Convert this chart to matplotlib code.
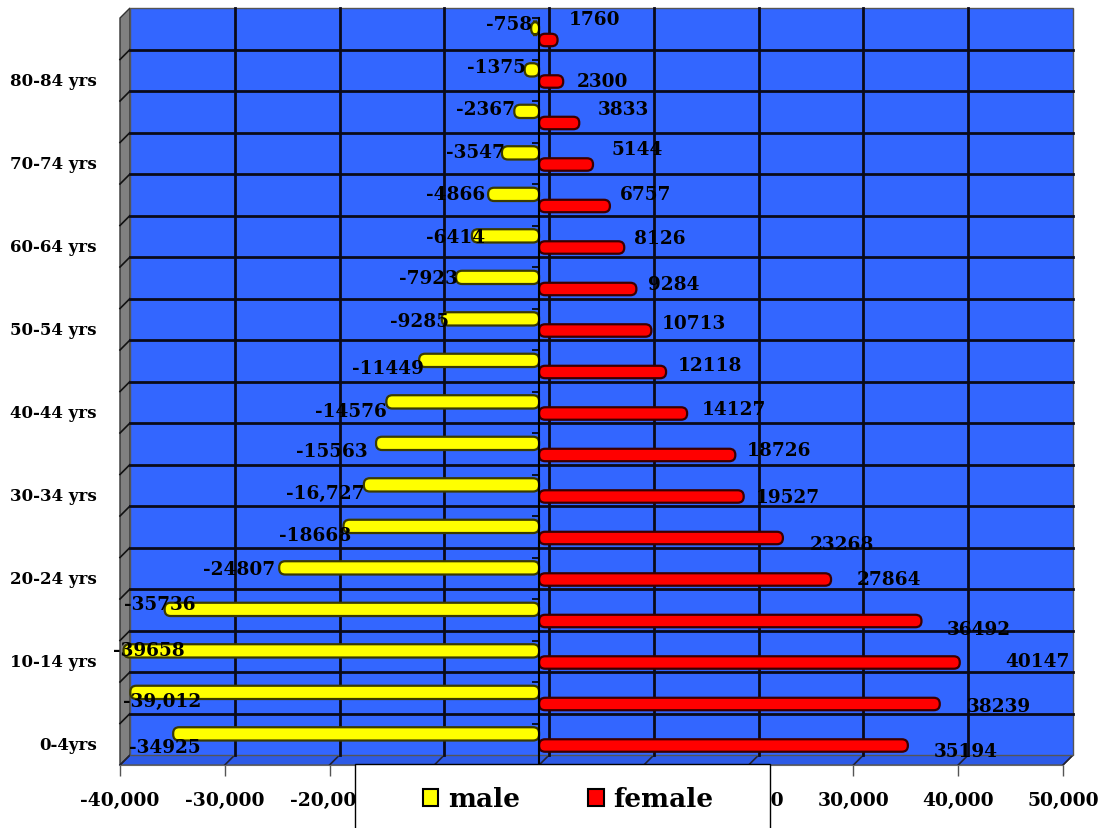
import matplotlib
matplotlib.use('Agg')
import matplotlib.pyplot as plt
from matplotlib.transforms import ScaledTranslation
from matplotlib.patches import Rectangle, Polygon, Patch, FancyBboxPatch
from matplotlib.ticker import FuncFormatter

# ---------------- data ----------------
age_groups = ['0-4yrs', '5-9 yrs', '10-14 yrs', '15-19 yrs', '20-24 yrs', '25-29 yrs',
              '30-34 yrs', '35-39 yrs', '40-44 yrs', '45-49 yrs', '50-54 yrs', '55-59 yrs',
              '60-64 yrs', '65-69 yrs', '70-74 yrs', '75-79 yrs', '80-84 yrs', '85+ yrs']
male = [-34925, -39012, -39658, -35736, -24807, -18668, -16727, -15563, -14576,
        -11449, -9285, -7923, -6414, -4866, -3547, -2367, -1375, -758]
female = [35194, 38239, 40147, 36492, 27864, 23268, 19527, 18726, 14127,
          12118, 10713, 9284, 8126, 6757, 5144, 3833, 2300, 1760]
male_text = ['-34925', '-39,012', '-39658', '-35736', '-24807', '-18668', '-16,727', '-15563',
             '-14576', '-11449', '-9285', '-7923', '-6414', '-4866', '-3547', '-2367', '-1375', '-758']
female_text = ['35194', '38239', '40147', '36492', '27864', '23268', '19527', '18726', '14127',
               '12118', '10713', '9284', '8126', '6757', '5144', '3833', '2300', '1760']
x_ticks = [-40000, -30000, -20000, -10000, 0, 10000, 20000, 30000, 40000, 50000]

# ---------------- style / layout ----------------
# label offsets in pixels (dx right, dy up) relative to bar end
male_dx = [-8, 32, 25, -5, -40, -28, -39, -44, -35, -31, -22, -28, -16, -33, -27, -29, -28, -22]
male_dy = [-3, 2, 11, 16, 9, 2, 2, 3, 1, 3, 8, 10, 9, 11, 11, 13, 13, 15]
female_dx = [58, 59, 78, 57, 58, 59, 44, 44, 47, 44, 43, 37, 36, 36, 44, 44, 39, 37]
female_dy = [-7, -3, 0, -9, -1, -7, -2, 4, 3, 6, 6, 4, 8, 11, 14, 13, -1, 20]

FONT = 'DejaVu Serif'
WALL = '#3366FF'
FLOOR = '#2d5ae6'
DEPTH = 10  # px

W, H = 1102, 829
fig = plt.figure(figsize=(W / 100, H / 100), dpi=100)
ax_l, ax_r, ax_t, ax_b = 120, 1063, 19, 766
ax = fig.add_axes([ax_l / W, (H - ax_b) / H, (ax_r - ax_l) / W, (ax_b - ax_t) / H])
ax.set_zorder(1)
ax.set_xlim(x_ticks[0], x_ticks[-1])
n = len(age_groups)
ax.set_ylim(-0.5, n - 0.5)
ax.patch.set_visible(False)

back = ax.transData + ScaledTranslation(DEPTH / 100, DEPTH / 100, fig.dpi_scale_trans)

# back wall
ax.add_patch(Rectangle((x_ticks[0], -0.5), x_ticks[-1] - x_ticks[0], n, transform=back,
                       facecolor=WALL, edgecolor='#555555', lw=1, zorder=0, clip_on=False))
for xv in x_ticks[1:-1]:
    ax.plot([xv, xv], [-0.5, n - 0.5], color='#0a0a1a', lw=2, transform=back, zorder=0.5, clip_on=False)
for k in range(1, n):
    ax.plot([x_ticks[0], x_ticks[-1]], [k - 0.5, k - 0.5], color='#0a0a1a', lw=2,
            transform=back, zorder=0.5, clip_on=False)

# floor and side wall (display coords)
fig.canvas.draw()
def front(x, y):
    return tuple(ax.transData.transform((x, y)))
def bk(x, y):
    return tuple(back.transform((x, y)))
inv = fig.transFigure.inverted()
def tofig(pts):
    return [tuple(inv.transform(p)) for p in pts]

floor_pts = [front(x_ticks[0], -0.5), front(x_ticks[-1], -0.5), bk(x_ticks[-1], -0.5), bk(x_ticks[0], -0.5)]
fig.add_artist(Polygon(tofig(floor_pts), closed=True, facecolor=FLOOR, edgecolor='#555555',
                       lw=1, transform=fig.transFigure, zorder=0.1))
for xv in x_ticks:
    fig.add_artist(plt.Line2D(*zip(*tofig([front(xv, -0.5), bk(xv, -0.5)])), color='#222233',
                              lw=1.2, transform=fig.transFigure, zorder=0.2))
side_pts = [front(x_ticks[0], -0.5), bk(x_ticks[0], -0.5), bk(x_ticks[0], n - 0.5), front(x_ticks[0], n - 0.5)]
fig.add_artist(Polygon(tofig(side_pts), closed=True, facecolor='#808080', edgecolor='#333333',
                       lw=1, transform=fig.transFigure, zorder=0.1))
for k in range(1, n):
    fig.add_artist(plt.Line2D(*zip(*tofig([front(x_ticks[0], k - 0.5), bk(x_ticks[0], k - 0.5)])),
                              color='#111111', lw=1.2, transform=fig.transFigure, zorder=0.2))

# bars (rounded, cylinder-like)
ypos = list(range(n))
bm = ax.barh([y + 0.25 for y in ypos], male, height=0.32, color='#FFFF00', edgecolor='#4a4a00',
             lw=1.5, zorder=3, clip_on=False)
bf = ax.barh([y - 0.03 for y in ypos], female, height=0.30, color='#FF0000', edgecolor='#4a0000',
             lw=1.5, zorder=3, clip_on=False)
xu_per_px = (x_ticks[-1] - x_ticks[0]) / (ax_r - ax_l)
yu_per_px = n / (ax_b - ax_t)
for cont, fc, ec in [(bm, '#FFFF00', '#3a3a00'), (bf, '#FF0000', '#3a0000')]:
    for r in cont.patches:
        x0, y0, w, h = r.get_x(), r.get_y(), r.get_width(), r.get_height()
        if w < 0:
            x0, w = x0 + w, -w
        r.set_visible(False)
        ax.add_patch(FancyBboxPatch((x0, y0), w, h,
                                    boxstyle=f'round,pad=0,rounding_size={6 * xu_per_px}',
                                    mutation_aspect=yu_per_px / xu_per_px,
                                    facecolor=fc, edgecolor=ec, lw=1.6, zorder=3, clip_on=False))

# data labels
for i in range(n):
    ax.annotate(male_text[i], (male[i], i), xytext=(male_dx[i], male_dy[i]), textcoords='offset pixels',
                ha='center', va='center', fontsize=13.3, fontweight='bold', family=FONT, zorder=6,
                annotation_clip=False)
    ax.annotate(female_text[i], (female[i], i), xytext=(female_dx[i], female_dy[i]), textcoords='offset pixels',
                ha='center', va='center', fontsize=13.3, fontweight='bold', family=FONT, zorder=6,
                annotation_clip=False)

# axes
for s in ['top', 'right']:
    ax.spines[s].set_visible(False)
ax.spines['left'].set_position(('data', 0))
ax.spines['left'].set_linewidth(1.5)
ax.spines['left'].set_zorder(4)
ax.spines['bottom'].set_color('#666666')
ax.set_yticks([k - 0.5 for k in range(n + 1)])
ax.set_yticklabels([])
ax.tick_params(axis='y', length=5, width=1.2, direction='out')
ax.set_xticks(x_ticks)
ax.xaxis.set_major_formatter(FuncFormatter(lambda v, p: f'{int(v):,}'))
ax.tick_params(axis='x', length=8, width=1, color='#555555', pad=11, labelsize=13.5)
for lab in ax.get_xticklabels():
    lab.set_fontweight('bold')
    lab.set_family(FONT)

# category labels
ytr = ax.get_yaxis_transform()
for i in range(0, n, 2):
    ax.text(-23 / (ax_r - ax_l), i, age_groups[i], transform=ytr, ha='right', va='center',
            fontsize=12, fontweight='bold', family=FONT)

# legend box
fig.add_artist(Rectangle((355 / W, -0.05), (770 - 355) / W, (H - 765) / H + 0.05,
                         transform=fig.transFigure, facecolor='white', edgecolor='black', lw=1, zorder=4))
handles = [Patch(facecolor='#FFFF00', edgecolor='black', lw=1.5, label='male'),
           Patch(facecolor='#FF0000', edgecolor='black', lw=1.5, label='female')]
fig.legend(handles=handles, loc='center', bbox_to_anchor=(568 / W, (H - 800) / H), ncol=2,
           frameon=False, prop={'family': FONT, 'weight': 'bold', 'size': 19},
           handlelength=0.6, handleheight=0.6, handletextpad=0.35, columnspacing=2.6)

fig.savefig('out.png', dpi=100)
